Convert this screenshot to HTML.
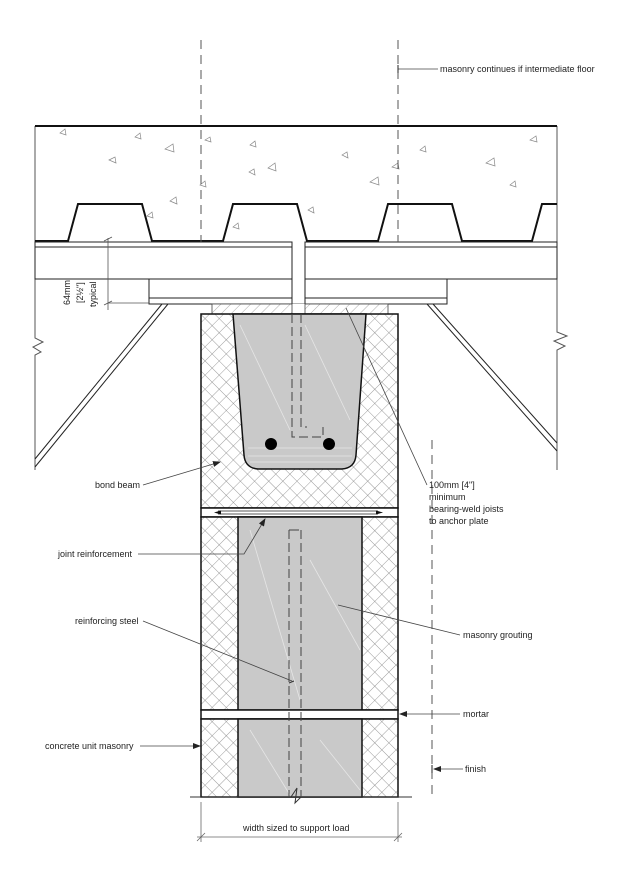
<!DOCTYPE html>
<html><head><meta charset="utf-8"><style>
html,body{margin:0;padding:0;background:#fff}
svg{display:block}
text{font-family:"Liberation Sans",sans-serif;font-size:9px;fill:#222}
</style></head><body>
<svg width="620" height="878" viewBox="0 0 620 878" xmlns="http://www.w3.org/2000/svg">
<defs>
<pattern id="xh" width="10" height="10" patternUnits="userSpaceOnUse" patternTransform="rotate(45)">
<rect width="10" height="10" fill="#fff"/>
<path d="M0 0H10M0 0V10" stroke="#777" stroke-width="0.7"/>
</pattern>
<pattern id="dh" width="7" height="7" patternUnits="userSpaceOnUse" patternTransform="rotate(45)">
<rect width="7" height="7" fill="#fff"/>
<path d="M0 0V7" stroke="#888" stroke-width="0.7"/>
</pattern>
<marker id="ar" markerWidth="8" markerHeight="6" refX="7" refY="3" orient="auto" markerUnits="userSpaceOnUse">
<path d="M0 0L8 3L0 6Z" fill="#222"/>
</marker>
</defs>

<path d="M35 126V338L43 342L33 347L41 352L35 355V470" fill="none" stroke="#555" stroke-width="1"/>
<path d="M557 126V332L567 336L554 341L565 346L557 350V470" fill="none" stroke="#555" stroke-width="1"/>

<line x1="35" y1="126" x2="557" y2="126" stroke="#111" stroke-width="2"/>
<g fill="none" stroke="#888" stroke-width="0.7">
<path d="M60 133l5 -4l1 6z"/><path d="M135 137l5 -4l1 6z"/><path d="M165 149l8 -5l1 8z"/><path d="M109 160l6 -3l1 6z"/>
<path d="M170 201l6 -4l1 7z"/><path d="M147 216l5 -4l1 6z"/><path d="M233 227l5 -4l1 6z"/><path d="M205 140l5 -3l1 5z"/>
<path d="M250 145l5 -4l1 6z"/><path d="M249 172l5 -3l1 6z"/><path d="M268 168l7 -5l1 8z"/><path d="M308 210l5 -3l1 6z"/>
<path d="M342 155l5 -3l1 6z"/><path d="M370 182l8 -5l1 8z"/><path d="M392 167l6 -4l1 6z"/><path d="M420 150l5 -4l1 6z"/>
<path d="M486 163l8 -5l1 8z"/><path d="M510 185l5 -4l1 6z"/><path d="M530 140l6 -4l1 6z"/><path d="M200 185l5 -4l1 6z"/>
</g>

<path d="M35 241H68L78 204H142L152 241H223L233 204H297L307 241H378L388 204H452L462 241H532L542 204H557" fill="none" stroke="#111" stroke-width="2"/>

<g fill="#fff" stroke="#222" stroke-width="1">
<rect x="35" y="242" width="257" height="37"/>
<line x1="35" y1="247" x2="292" y2="247"/>
<rect x="149" y="279" width="143" height="25"/>
<line x1="149" y1="298" x2="292" y2="298"/>
<rect x="305" y="242" width="252" height="37"/>
<line x1="305" y1="247" x2="557" y2="247"/>
<rect x="305" y="279" width="142" height="25"/>
<line x1="305" y1="298" x2="447" y2="298"/>
</g>

<g stroke="#222" stroke-width="1">
<line x1="162" y1="304" x2="35" y2="459"/><line x1="168" y1="304" x2="35" y2="467"/>
<line x1="427" y1="304" x2="557" y2="451"/><line x1="433" y1="304" x2="557" y2="443"/>
</g>

<rect x="212" y="304" width="176" height="10" fill="url(#dh)" stroke="#444" stroke-width="0.8"/>
<rect x="292" y="304" width="13" height="10" fill="#fff" stroke="none"/>
<line x1="292" y1="304" x2="292" y2="314" stroke="#444" stroke-width="0.8"/>
<line x1="305" y1="304" x2="305" y2="314" stroke="#444" stroke-width="0.8"/>

<rect x="201" y="314" width="197" height="194" fill="url(#xh)" stroke="#111" stroke-width="1.5"/>
<path d="M233 314H366L356 455Q355 468 342 469H258Q245 468 244 455Z" fill="#c9c9c9" stroke="#111" stroke-width="1.5"/>
<g stroke="#e6e6e6" stroke-width="0.8"><line x1="240" y1="325" x2="290" y2="430"/><line x1="305" y1="325" x2="350" y2="420"/>
<line x1="248" y1="448" x2="352" y2="448"/><line x1="248" y1="456" x2="352" y2="456"/><line x1="250" y1="462" x2="350" y2="462"/></g>
<circle cx="271" cy="444" r="6" fill="#000"/><circle cx="329" cy="444" r="6" fill="#000"/>
<path d="M292 314V437H323V427M301 314V427H307" fill="none" stroke="#444" stroke-width="1" stroke-dasharray="9,4"/>

<rect x="201" y="508" width="197" height="9" fill="#fff" stroke="#111" stroke-width="1.5"/>
<line x1="218" y1="511" x2="378" y2="511" stroke="#222" stroke-width="0.8"/>
<line x1="218" y1="514" x2="378" y2="514" stroke="#222" stroke-width="0.8"/>
<path d="M214 512.5l7 -2v4z M383 512.5l-7 -2v4z" fill="#111"/>

<rect x="201" y="517" width="197" height="193" fill="url(#xh)" stroke="#111" stroke-width="1.5"/>
<rect x="238" y="517" width="124" height="193" fill="#c9c9c9" stroke="#111" stroke-width="1.5"/>
<rect x="201" y="710" width="197" height="9" fill="#fff" stroke="#111" stroke-width="1.5"/>
<rect x="201" y="719" width="197" height="78" fill="url(#xh)" stroke="#111" stroke-width="1.5"/>
<rect x="238" y="719" width="124" height="78" fill="#c9c9c9" stroke="#111" stroke-width="1.5"/>
<line x1="190" y1="797" x2="412" y2="797" stroke="#333" stroke-width="1"/>
<g stroke="#e6e6e6" stroke-width="0.8"><line x1="250" y1="530" x2="300" y2="700"/><line x1="310" y1="560" x2="360" y2="650"/>
<line x1="250" y1="730" x2="290" y2="795"/><line x1="320" y1="740" x2="360" y2="790"/></g>
<path d="M289 530V797M301 530V797" fill="none" stroke="#444" stroke-width="1" stroke-dasharray="9,4"/>
<path d="M289 530H299" stroke="#444"/>
<path d="M289 683l5 -2" stroke="#333"/>
<path d="M291 797L297 788L295 803L301 797" fill="none" stroke="#333" stroke-width="1"/>

<g stroke="#555" stroke-width="1" stroke-dasharray="9,6">
<line x1="201" y1="40" x2="201" y2="242"/>
<line x1="398" y1="40" x2="398" y2="242"/>
<line x1="432" y1="440" x2="432" y2="800"/>
</g>

<g stroke="#555" stroke-width="0.8">
<line x1="108" y1="238" x2="108" y2="310"/>
<line x1="104" y1="241" x2="112" y2="237"/><line x1="104" y1="305" x2="112" y2="301"/>
<line x1="108" y1="303" x2="149" y2="303"/>
</g>
<text transform="translate(70,305) rotate(-90)" font-size="8.5">64mm</text>
<text transform="translate(83,303) rotate(-90)" font-size="8.5">[2½"]</text>
<text transform="translate(96,307) rotate(-90)" font-size="8.5">typical</text>

<g stroke="#444" stroke-width="0.8" fill="none">
<line x1="398" y1="69" x2="438" y2="69"/>
<line x1="346" y1="308" x2="427" y2="485"/>
<line x1="143" y1="485" x2="220" y2="462" marker-end="url(#ar)"/>
<path d="M138 554H244L265 519" marker-end="url(#ar)"/>
<line x1="143" y1="621" x2="292" y2="681"/>
<line x1="460" y1="635" x2="338" y2="605"/>
<line x1="460" y1="714" x2="400" y2="714" marker-end="url(#ar)"/>
<line x1="140" y1="746" x2="200" y2="746" marker-end="url(#ar)"/>
<line x1="463" y1="769" x2="434" y2="769" marker-end="url(#ar)"/>
</g>
<path d="M398 65v8M432 765v8" stroke="#222" stroke-width="1"/>
<text x="440" y="72">masonry continues if intermediate floor</text>
<text x="429" y="488">100mm [4"]</text>
<text x="429" y="500">minimum</text>
<text x="429" y="512">bearing-weld joists</text>
<text x="429" y="524">to anchor plate</text>
<text x="95" y="488">bond beam</text>
<text x="58" y="557">joint reinforcement</text>
<text x="75" y="624">reinforcing steel</text>
<text x="463" y="638">masonry grouting</text>
<text x="463" y="717">mortar</text>
<text x="45" y="749">concrete unit masonry</text>
<text x="465" y="772">finish</text>

<g stroke="#666" stroke-width="0.8">
<line x1="201" y1="802" x2="201" y2="842"/>
<line x1="398" y1="802" x2="398" y2="842"/>
<line x1="197" y1="837" x2="402" y2="837"/>
<line x1="197" y1="841" x2="205" y2="833"/><line x1="394" y1="841" x2="402" y2="833"/>
</g>
<text x="243" y="831">width sized to support load</text>
</svg>
</body></html>
